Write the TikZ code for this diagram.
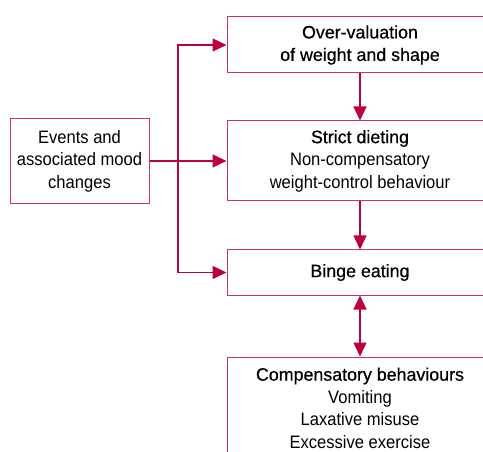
\documentclass[tikz,border=0pt]{standalone}
\usepackage{fontspec}
\setmainfont{Liberation Sans}[FakeStretch=0.92]
\newfontfamily\headfont{Liberation Sans}[FakeStretch=0.99,FakeBold=0.6]
\usetikzlibrary{arrows.meta}
\definecolor{crimson}{RGB}{187,0,62}

\begin{document}
\begin{tikzpicture}
  [x=1pt,y=-1pt,
   every node/.style={draw=crimson!80,line width=1pt,align=center,inner sep=0pt,
     font=\fontsize{18}{22.5}\selectfont},
   box/.style={minimum width=266pt},
   arr/.style={crimson,line width=1.4pt,-{Triangle[length=14pt,width=13pt]}}]
  \useasboundingbox (0,0) rectangle (483,452);
  \clip (0,0) rectangle (483,452);
  \node[minimum width=139pt,minimum height=85pt] (events) at (79.5,161) {Events and\\associated mood\\changes};
  \node[box,minimum height=56pt] (over) at (360,45) {{\headfont Over-valuation}\\{\headfont of weight and shape}};
  \node[box,minimum height=80pt] (strict) at (360,161) {{\headfont Strict dieting}\\Non-compensatory\\weight-control behaviour};
  \node[box,minimum height=45pt] (binge) at (360,272.5) {\headfont Binge eating};
  \node[box,minimum height=102pt] (comp) at (360,408) {{\headfont Compensatory behaviours}\\Vomiting\\Laxative misuse\\Excessive exercise};
  \coordinate (jn) at (178,161);

  \draw[arr] (events) -- (strict);
  \foreach \to in {over,binge}
    \draw[arr] (jn) |- (\to);
  \foreach \from/\to in {over/strict,strict/binge}
    \draw[arr] (\from) -- (\to);
  \draw[arr,{Triangle[length=14pt,width=13pt]}-{Triangle[length=14pt,width=13pt]}] (binge) -- (comp);

\end{tikzpicture}
\end{document}
